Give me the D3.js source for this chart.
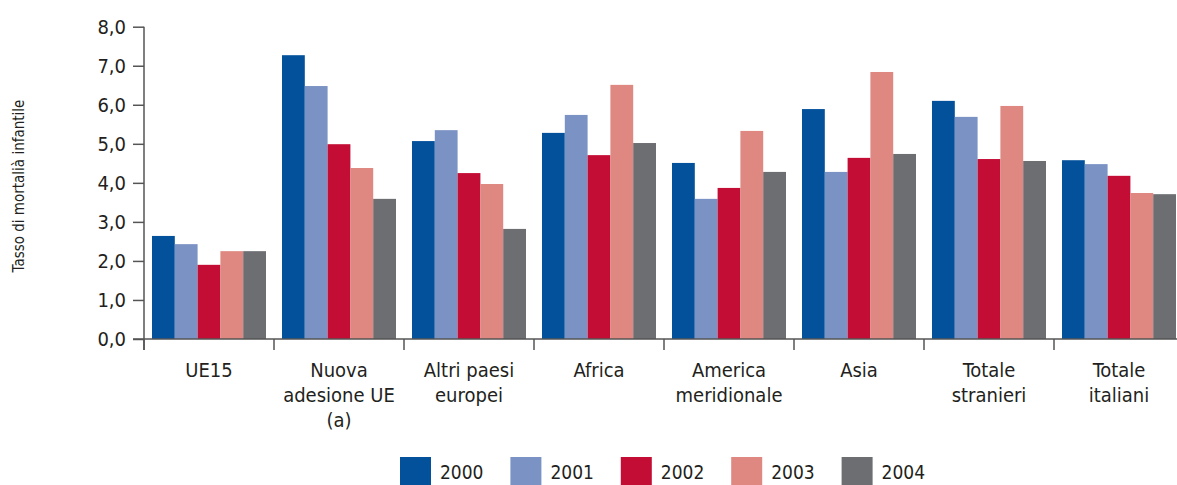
<!DOCTYPE html>
<html><head><meta charset="utf-8">
<script src="https://cdn.jsdelivr.net/npm/d3@7"></script>
<style>
body{margin:0;background:#fff;}
text{font-family:"Liberation Sans Narrow","DejaVu Sans Condensed","Arial Narrow",sans-serif;fill:#231f20;}
</style></head>
<body>
<svg id="c" width="1177" height="485"></svg>
<script>
const categories = ["UE15", "Nuova|adesione UE|(a)", "Altri paesi|europei", "Africa", "America|meridionale", "Asia", "Totale|stranieri", "Totale|italiani"];
const years = ["2000", "2001", "2002", "2003", "2004"];
const v2000 = [2.64, 7.27, 5.07, 5.28, 4.51, 5.89, 6.10, 4.58];
const v2001 = [2.43, 6.48, 5.35, 5.74, 3.59, 4.28, 5.69, 4.48];
const v2002 = [1.90, 4.99, 4.25, 4.71, 3.87, 4.64, 4.61, 4.18];
const v2003 = [2.25, 4.38, 3.97, 6.51, 5.33, 6.84, 5.97, 3.74];
const v2004 = [2.25, 3.59, 2.82, 5.02, 4.28, 4.74, 4.56, 3.71];
const colors = ["#03519b", "#7b93c4", "#c40d35", "#de8881", "#6d6e72"];
const yTicks = [0, 1, 2, 3, 4, 5, 6, 7, 8];
const yTitle = "Tasso di mortalià infantile";

const series = [v2000, v2001, v2002, v2003, v2004];
const svg = d3.select("#c");
const x0 = d3.scaleBand().domain(categories).range([144, 1184]);
const x1 = d3.scaleBand().domain(years).range([8, 122]);
const y = d3.scaleLinear().domain([0, 8]).range([339, 26.7]);

// bars
categories.forEach((c, ci) => {
  const g = svg.append("g").attr("transform", `translate(${x0(c)},0)`);
  years.forEach((yr, si) => {
    const val = series[si][ci];
    g.append("rect").attr("x", x1(yr)).attr("width", x1.bandwidth())
      .attr("y", y(val)).attr("height", y(0) - y(val)).attr("fill", colors[si]);
  });
});

// y axis
const yAxis = d3.axisLeft(y).tickValues(yTicks).tickSize(11).tickPadding(7)
  .tickFormat(d => d3.format(".1f")(d).replace(".", ","));
const ya = svg.append("g").attr("transform", "translate(144,0)").call(yAxis);
ya.select(".domain").attr("stroke", "#555").attr("stroke-width", 1.5).attr("d", `M0,${y(8)}V${y(0)+11}`);
ya.selectAll(".tick line").attr("stroke", "#555").attr("stroke-width", 1.5);
ya.selectAll(".tick text").style("font-size", "20px").attr("fill", "#231f20");

// x axis
svg.append("line").attr("x1", 133).attr("x2", 1177).attr("y1", y(0)).attr("y2", y(0))
  .attr("stroke", "#555").attr("stroke-width", 1.5);
categories.forEach(c => {
  svg.append("line").attr("x1", x0(c)).attr("x2", x0(c)).attr("y1", y(0)).attr("y2", y(0) + 11)
    .attr("stroke", "#555").attr("stroke-width", 1.5);
  const t = svg.append("text").attr("text-anchor", "middle").style("font-size", "20px")
    .attr("x", x0(c) + x0.bandwidth() / 2).attr("y", 377);
  c.split("|").forEach((line, i) => {
    t.append("tspan").attr("x", x0(c) + x0.bandwidth() / 2).attr("y", 377 + i * 25).text(line);
  });
});

// y title
svg.append("text").attr("transform", "translate(24,186) rotate(-90)")
  .attr("text-anchor", "middle").style("font-size", "15px").text(yTitle);

// legend
const legX = d3.scaleBand().domain(years).range([400, 952]);
years.forEach((yr, i) => {
  svg.append("rect").attr("x", legX(yr)).attr("y", 457).attr("width", 31).attr("height", 28).attr("fill", colors[i]);
  svg.append("text").attr("x", legX(yr) + 40).attr("y", 479).style("font-size", "19px").text(yr);
});
</script>
</body></html>
